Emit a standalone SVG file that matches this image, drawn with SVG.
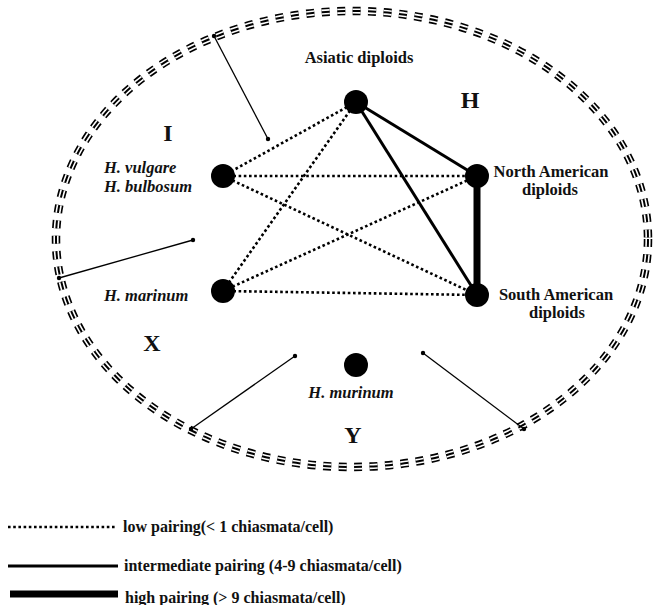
<svg xmlns="http://www.w3.org/2000/svg" width="653" height="605" viewBox="0 0 653 605">
<style>
.bg{fill:#fff}
.lbl{font-family:"Liberation Serif","Times New Roman",serif;font-weight:bold;font-size:16.5px;fill:#111}
.it{font-style:italic}
.big{font-family:"Liberation Serif","Times New Roman",serif;font-weight:bold;font-size:24px;fill:#111}
.leg{font-family:"Liberation Serif","Times New Roman",serif;font-weight:bold;font-size:16px;fill:#111}
.node{fill:#000}
.low{stroke:#000;stroke-width:2.6;stroke-dasharray:2.6 2.6;fill:none}
.mid{stroke:#000;stroke-width:3;fill:none}
.high{stroke:#000;stroke-width:7;fill:none}
.ptr{stroke:#000;stroke-width:1.3;fill:none}
.ell{fill:none;stroke-dasharray:8 7.5}
</style>
<rect class="bg" x="0" y="0" width="653" height="605"/>
<g id="boundary">
<ellipse class="ell" cx="352" cy="239" rx="296" ry="228" stroke="#000" stroke-width="8.5"/>
<ellipse class="ell" cx="352" cy="239" rx="296" ry="228" stroke="#fff" stroke-width="5.2"/>
<ellipse class="ell" cx="352" cy="239" rx="296" ry="228" stroke="#000" stroke-width="2"/>
</g>
<g id="connectors">
<line class="low" x1="356" y1="102" x2="223" y2="176"/>
<line class="low" x1="356" y1="102" x2="223" y2="291"/>
<line class="low" x1="223" y1="176" x2="477" y2="176"/>
<line class="low" x1="223" y1="176" x2="477" y2="295"/>
<line class="low" x1="223" y1="291" x2="477" y2="176"/>
<line class="low" x1="223" y1="291" x2="477" y2="295"/>
<line class="mid" x1="356" y1="102" x2="477" y2="176"/>
<line class="mid" x1="356" y1="102" x2="477" y2="295"/>
<line class="high" x1="477" y1="176" x2="477" y2="295"/>
</g>
<g id="pointers">
<line class="ptr" x1="268" y1="139" x2="214" y2="36"/>
<circle cx="268" cy="139" r="2.2"/><circle cx="214" cy="36" r="2.2"/>
<line class="ptr" x1="193" y1="240" x2="59" y2="278"/>
<circle cx="193" cy="240" r="2.2"/><circle cx="59" cy="278" r="2.2"/>
<line class="ptr" x1="295" y1="356" x2="191" y2="429"/>
<circle cx="295" cy="356" r="2.2"/><circle cx="191" cy="429" r="2.2"/>
<line class="ptr" x1="423" y1="353" x2="524" y2="429"/>
<circle cx="423" cy="353" r="2.2"/><circle cx="524" cy="429" r="2.2"/>
</g>
<g id="asiatic">
<circle class="node" cx="356" cy="102" r="12"/>
<text class="lbl" x="359" y="63" text-anchor="middle">Asiatic diploids</text>
</g>
<g id="vulgare">
<circle class="node" cx="223" cy="176" r="12"/>
<text class="lbl it" x="104" y="173">H. vulgare</text>
<text class="lbl it" x="104" y="192">H. bulbosum</text>
</g>
<g id="northam">
<circle class="node" cx="477" cy="176" r="12"/>
<text class="lbl" x="551" y="177" text-anchor="middle">North American</text>
<text class="lbl" x="550" y="195" text-anchor="middle">diploids</text>
</g>
<g id="marinum">
<circle class="node" cx="223" cy="291" r="12"/>
<text class="lbl it" x="104" y="301">H. marinum</text>
</g>
<g id="southam">
<circle class="node" cx="477" cy="295" r="12"/>
<text class="lbl" x="556" y="300" text-anchor="middle">South American</text>
<text class="lbl" x="557" y="318" text-anchor="middle">diploids</text>
</g>
<g id="murinum">
<circle class="node" cx="356" cy="365" r="12"/>
<text class="lbl it" x="351" y="398" text-anchor="middle">H. murinum</text>
</g>
<g id="genome-labels">
<text class="big" x="168" y="141" text-anchor="middle">I</text>
<text class="big" x="470" y="108" text-anchor="middle">H</text>
<text class="big" x="152" y="351" text-anchor="middle">X</text>
<text class="big" x="353" y="443" text-anchor="middle">Y</text>
</g>
<g id="legend">
<line class="low" x1="8" y1="527" x2="116" y2="527"/>
<text class="leg" x="123" y="532">low pairing(&lt; 1 chiasmata/cell)</text>
<line class="mid" x1="8" y1="566" x2="118" y2="566" stroke-width="2.6"/>
<text class="leg" x="124" y="571">intermediate pairing (4-9 chiasmata/cell)</text>
<line class="high" x1="10" y1="594" x2="118" y2="594"/>
<text class="leg" x="125" y="603">high pairing (&gt; 9 chiasmata/cell)</text>
</g>
</svg>
